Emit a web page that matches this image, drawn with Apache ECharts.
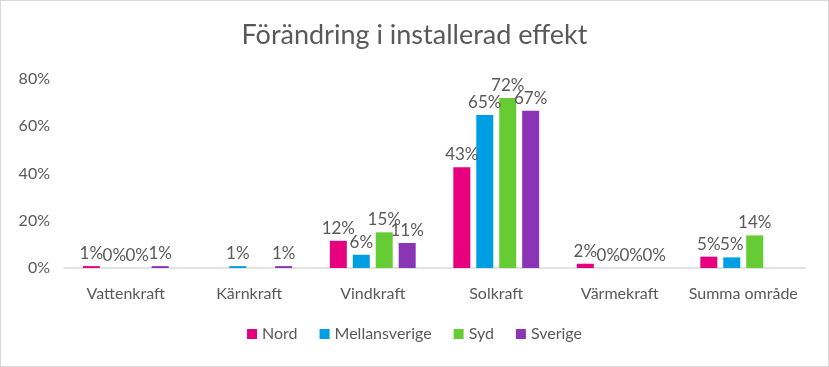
<!DOCTYPE html>
<html><head><meta charset="utf-8">
<script src="https://cdn.jsdelivr.net/npm/echarts@6/dist/echarts.min.js"></script>
<style>html,body{margin:0;padding:0;background:#fff}#c{width:829px;height:367px;box-sizing:border-box;border:1px solid #d9d9d9}</style>
</head><body><div id="c"></div>
<script>
const categories = ['Vattenkraft','Kärnkraft','Vindkraft','Solkraft','Värmekraft','Summa område'];
const nord = [0.8, null, 11.5, 42.6, 1.8, 4.8];
const mellansverige = [0, 0.8, 5.6, 64.8, 0, 4.5];
const syd = [0, null, 15.1, 72.0, 0, 13.8];
const sverige = [0.8, 0.8, 10.6, 66.6, 0, null];
const yTicks = [0, 20, 40, 60, 80];
const font = 'Lato, "Open Sans", sans-serif';
function mk(name, data, color){
  return {name, type:'bar', data, barWidth:17, barGap:'35%', itemStyle:{color},
    label:{show:true, position:'top', distance:4, color:'#595959', fontSize:17, fontFamily:font,
      formatter: p => Math.round(p.value) + '%'}};
}
const chart = echarts.init(document.getElementById('c'));
chart.setOption({
  animation:false,
  title:{text:'Förändring i installerad effekt', left:'center', top:16,
    textStyle:{color:'#595959', fontSize:27, fontWeight:'normal', fontFamily:font}},
  legend:{bottom:19, left:'center', icon:'rect', itemWidth:10, itemHeight:10, itemGap:22,
    textStyle:{color:'#595959', fontSize:16, fontFamily:font}},
  grid:{left:63, right:23, top:78, bottom:98},
  xAxis:{type:'category', data:categories, axisTick:{show:false},
    axisLine:{lineStyle:{color:'#d9d9d9', width:1.5}},
    axisLabel:{color:'#595959', fontSize:16, fontFamily:font, margin:18, interval:0}},
  yAxis:{type:'value', min:yTicks[0], max:yTicks[yTicks.length-1], interval:20,
    splitLine:{show:false}, axisLine:{show:false},
    axisLabel:{color:'#595959', fontSize:16, fontFamily:font, margin:14, formatter:'{value}%'}},
  series:[mk('Nord', nord, '#E6007E'), mk('Mellansverige', mellansverige, '#009FE3'),
    mk('Syd', syd, '#66CC33'), mk('Sverige', sverige, '#8A35B5')]
});
</script></body></html>
